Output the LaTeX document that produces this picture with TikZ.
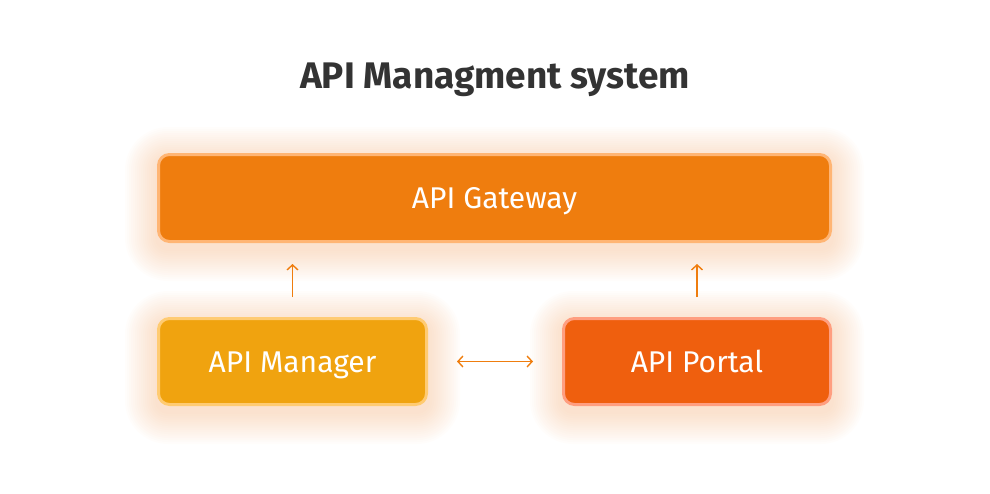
\documentclass[tikz,border=0pt]{standalone}
\usepackage{fontspec}
\setmainfont{Fira Sans}
\usepackage{tikz}
\usetikzlibrary{positioning, backgrounds, arrows.meta}
\usepackage{xcolor}
\definecolor{gatewayfill}{HTML}{EF7D0E}
\definecolor{gatewayline}{HTML}{FFB574}
\definecolor{managerfill}{HTML}{F0A30F}
\definecolor{managerline}{HTML}{FFCB72}
\definecolor{portalfill}{HTML}{EF5F0E}
\definecolor{portalline}{HTML}{FF9E80}
\definecolor{glow}{HTML}{F2A466}
\definecolor{titlegray}{HTML}{333333}

% soft glow round a box
\newcommand{\boxglow}[1]{%
  \foreach \r in {2,4,...,32}
    \fill[glow, opacity=0.022, rounded corners=11pt+\r pt]
      ([xshift=-\r pt, yshift=\r pt-6pt]#1.north west) rectangle ([xshift=\r pt, yshift=-\r pt-6pt]#1.south east);
}

\begin{document}
\begin{tikzpicture}[x=1pt, y=-1pt,
    box/.style={rounded corners=11pt, line width=3pt, text=white,
        font=\fontsize{30}{34}\selectfont, text height=21pt, text depth=0pt},
    link/.style={-{Straight Barb[length=5pt, width=11pt]}, gatewayfill, line width=1.4pt}]
\useasboundingbox (0,0) rectangle (990,493);

% Title
\node[font=\fontsize{37}{42}\selectfont\bfseries, text=titlegray, anchor=base] (title) at (495,88) {API Managment system};

% Boxes
\node[box, fill=gatewayfill, draw=gatewayline, minimum width=672pt, minimum height=87pt] (gateway) at (494.5,198) {API Gateway};
\node[box, fill=managerfill, draw=managerline, minimum width=268pt, minimum height=86pt] (manager) at (292.5,361.5) {API Manager};
\node[box, fill=portalfill, draw=portalline, minimum width=267pt, minimum height=86pt] (portal) at (697,361.5) {API Portal};

% Glow
\begin{scope}[on background layer]
    \boxglow{gateway}
    \boxglow{manager}
    \boxglow{portal}
\end{scope}

% Arrows
\draw[link, shorten <=20pt, shorten >=21pt] (manager.north) -- (manager.north |- gateway.south);
\draw[link, shorten <=20pt, shorten >=21pt] (portal.north) -- (portal.north |- gateway.south);
\draw[link, {Straight Barb[length=5pt, width=11pt]}-{Straight Barb[length=5pt, width=11pt]}, shorten <=29pt, shorten >=29pt] (manager.east) -- (portal.west);
\end{tikzpicture}
\end{document}
